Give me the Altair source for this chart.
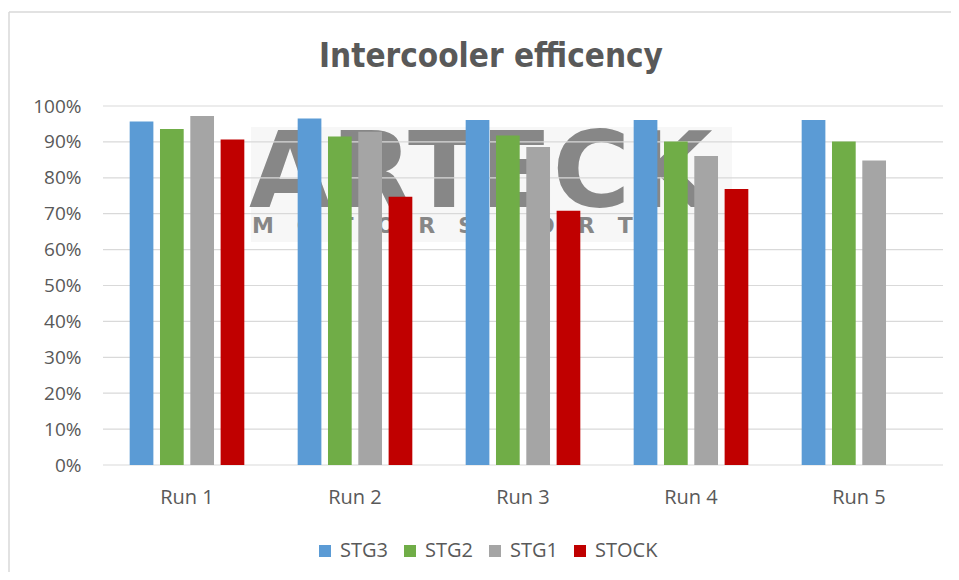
import altair as alt
import pandas as pd

runs = ["Run 1", "Run 2", "Run 3", "Run 4", "Run 5"]
series = ["STG3", "STG2", "STG1", "STOCK"]
colors = ["#5B9BD5", "#70AD47", "#A5A5A5", "#C00000"]
stg3 = [0.957, 0.965, 0.961, 0.961, 0.961]
stg2 = [0.936, 0.915, 0.918, 0.901, 0.901]
stg1 = [0.972, 0.928, 0.886, 0.861, 0.848]
stock = [0.907, 0.747, 0.708, 0.769, None]
ticks = [i / 10 for i in range(11)]
title_text = "Intercooler efficency"

rows = []
for name, vals in zip(series, [stg3, stg2, stg1, stock]):
    for r, v in zip(runs, vals):
        if v is not None:
            rows.append({"run": r, "series": name, "value": v})
df = pd.DataFrame(rows)
tick_df = pd.DataFrame({"tick": ticks})
one = pd.DataFrame({"a": [0]})

TXT = "#595959"
FONT = "Open Sans"
NB = "\u00a0" * 3

y_scale = alt.Scale(domain=[0, 1])
y_axis = alt.Axis(format=".0%", values=ticks, grid=False, ticks=False,
                  domain=False, labelPadding=22, labelFontSize=19,
                  labelFont=FONT, labelColor=TXT)

border_top = alt.Chart(one).mark_rule(color="#d9d9d9", strokeWidth=1.5).encode(
    x=alt.value(-94), x2=alt.value(860), y=alt.value(-94))
border_left = alt.Chart(one).mark_rule(color="#d9d9d9", strokeWidth=1.5).encode(
    x=alt.value(-94), y=alt.value(-94), y2=alt.value(480))

title_mark = alt.Chart(one).mark_text(
    text=title_text, font="DejaVu Sans Condensed",
    fontWeight="bold", fontSize=33, color=TXT, align="center",
    baseline="alphabetic").encode(x=alt.value(388), y=alt.value(-39))

logo_bg = alt.Chart(one).mark_rect(color="#f7f7f7").encode(
    x=alt.value(148), x2=alt.value(629), y=alt.value(21), y2=alt.value(136))
logo_big = alt.Chart(one).mark_text(
    text="ARTECK", font="DejaVu Sans", fontWeight="bold", fontSize=106,
    color="#878787", align="left", baseline="alphabetic").encode(
    x=alt.value(146), y=alt.value(101))
logo_small = alt.Chart(one).mark_text(
    text=NB.join(list("MOTORSPORT")), font="DejaVu Sans",
    fontWeight="bold", fontSize=22, color="#878787", align="left",
    baseline="alphabetic").encode(
    x=alt.value(149), y=alt.value(127))

grid = alt.Chart(tick_df).mark_rule(color="#d9d9d9", strokeWidth=1.2).encode(
    y=alt.Y("tick:Q", scale=y_scale, title=None, axis=y_axis))

bars = alt.Chart(df).mark_bar().encode(
    x=alt.X("run:N", sort=runs, title=None,
            scale=alt.Scale(paddingInner=0, paddingOuter=0),
            axis=alt.Axis(labelAngle=0, ticks=False, domain=False, grid=False,
                          labelPadding=22, labelFontSize=20, labelFont=FONT,
                          labelColor=TXT)),
    xOffset=alt.XOffset("series:N", sort=series,
                        scale=alt.Scale(paddingInner=0.218, paddingOuter=0.88)),
    y=alt.Y("value:Q", scale=y_scale, title=None, axis=y_axis),
    color=alt.Color("series:N", sort=series,
                    scale=alt.Scale(domain=series, range=colors),
                    legend=alt.Legend(title=None, orient="none", legendX=212,
                                      legendY=435, direction="horizontal",
                                      symbolType="square", symbolSize=144,
                                      symbolStrokeWidth=0, labelFontSize=20,
                                      labelFont=FONT, labelColor=TXT,
                                      labelOffset=5, columnPadding=12,
                                      padding=0)),
)

chart = alt.layer(border_top, border_left, title_mark, logo_bg, logo_big,
                  logo_small, grid, bars).properties(
    width=840, height=359,
    autosize=alt.AutoSizeParams(type="none"),
    padding={"left": 95, "top": 98, "right": 8, "bottom": 107},
).configure_view(stroke=None)

chart.save("out.html", embed_options={"renderer": "svg", "actions": False})
